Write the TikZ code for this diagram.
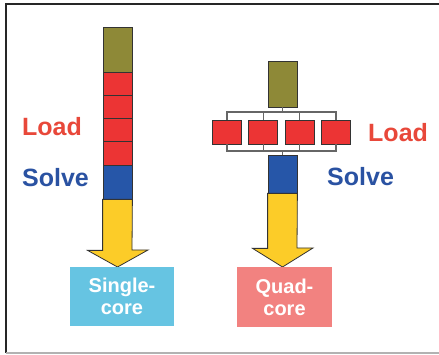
\documentclass[tikz,border=0pt]{standalone}
\usepackage{fontspec}
\setmainfont{Liberation Sans}
\usetikzlibrary{positioning}
\definecolor{cOlive}{RGB}{142,137,55}
\definecolor{cRed}{RGB}{236,52,52}
\definecolor{cBlue}{RGB}{38,86,168}
\definecolor{cYellow}{RGB}{252,204,40}
\definecolor{cLoad}{RGB}{232,72,58}
\definecolor{cSolve}{RGB}{42,82,162}
\definecolor{cSingle}{RGB}{102,196,226}
\definecolor{cQuad}{RGB}{242,130,128}
\tikzset{
  blk/.style={draw=black!80, line width=0.8pt, minimum width=29pt, inner sep=0pt},
  link/.style={draw=black!60, line width=1.3pt},
  lbl/.style={font=\bfseries\fontsize{25}{30}\selectfont, anchor=west, inner sep=0pt},
  core/.style={text=white, font=\bfseries\fontsize{20}{22}\selectfont, align=center, inner sep=0pt},
}
\begin{document}
\begin{tikzpicture}[x=1pt, y=-1pt]
      \useasboundingbox (0,0) rectangle (439,355);
      % frame
      \draw [black!85, line width=1.6pt] (439,4) -- (6,4) -- (6,353);
      \draw [black!30, line width=1.4pt] (6,353) -- (439,353);

      % single core
      \node [blk, fill=cOlive, minimum height=45pt] (solive) at (117.5,49.5) {};
      \foreach \i in {1,...,4}
        \node [blk, fill=cRed, minimum height=23.25pt] (sr\i) at (117.5, {72+23.25*(\i-0.5)}) {};
      \node [blk, fill=cBlue, minimum height=34pt] (sblue) at (117.5,182) {};
      \draw [black!80, line width=0.8pt, fill=cYellow, line join=miter]
        (sblue.south west) -- ++(0,51) -- ++(-15,0) -- (117.5,267) -- (148,250)
        -- ++(-16,0) -- (sblue.south east) -- cycle;
      \node [core, fill=cSingle, minimum width=104pt, minimum height=59pt] (single) at (122,296.5) {Single-\\core};
      \node [lbl, text=cLoad] (sload) at (22,127) {Load};
      \node [lbl, text=cSolve] (ssolve) at (22,178) {Solve};

      % quad core
      \node [blk, fill=cOlive, minimum height=46pt] (qolive) at (282.5,84) {};
      \foreach \i in {1,...,4}
        \node [blk, fill=cRed, minimum height=24pt] (qr\i) at ({227+36.3*(\i-1)},132) {};
      \node [blk, fill=cBlue, minimum height=38pt] (qblue) at (282.5,174) {};
      \coordinate (qtop) at (282.5,112);
      \coordinate (qbot) at (282.5,151);
      \draw [link] (qolive.south) -- (qtop);
      \draw [link] (qr1.north) |- (qtop) -| (qr4.north);
      \draw [link] (qr1.south) |- (qbot) -| (qr4.south);
      \foreach \i in {2,3} {
        \draw [link] (qr\i.north) -- (qr\i.north |- qtop);
        \draw [link] (qr\i.south) -- (qr\i.south |- qbot);
      }
      \draw [link] (qbot) -- (qblue.north);
      \draw [black!80, line width=0.8pt, fill=cYellow, line join=miter]
        (qblue.south west) -- ++(0,55) -- ++(-15,0) -- (282.5,267) -- (313,248)
        -- ++(-16,0) -- (qblue.south east) -- cycle;
      \node [core, fill=cQuad, minimum width=95pt, minimum height=60pt] (quad) at (284.5,297) {Quad-\\core};
      \node [lbl, text=cLoad] (qload) at (368,133) {Load};
      \node [lbl, text=cSolve] (qsolve) at (327,177) {Solve};
    \end{tikzpicture}
\end{document}
